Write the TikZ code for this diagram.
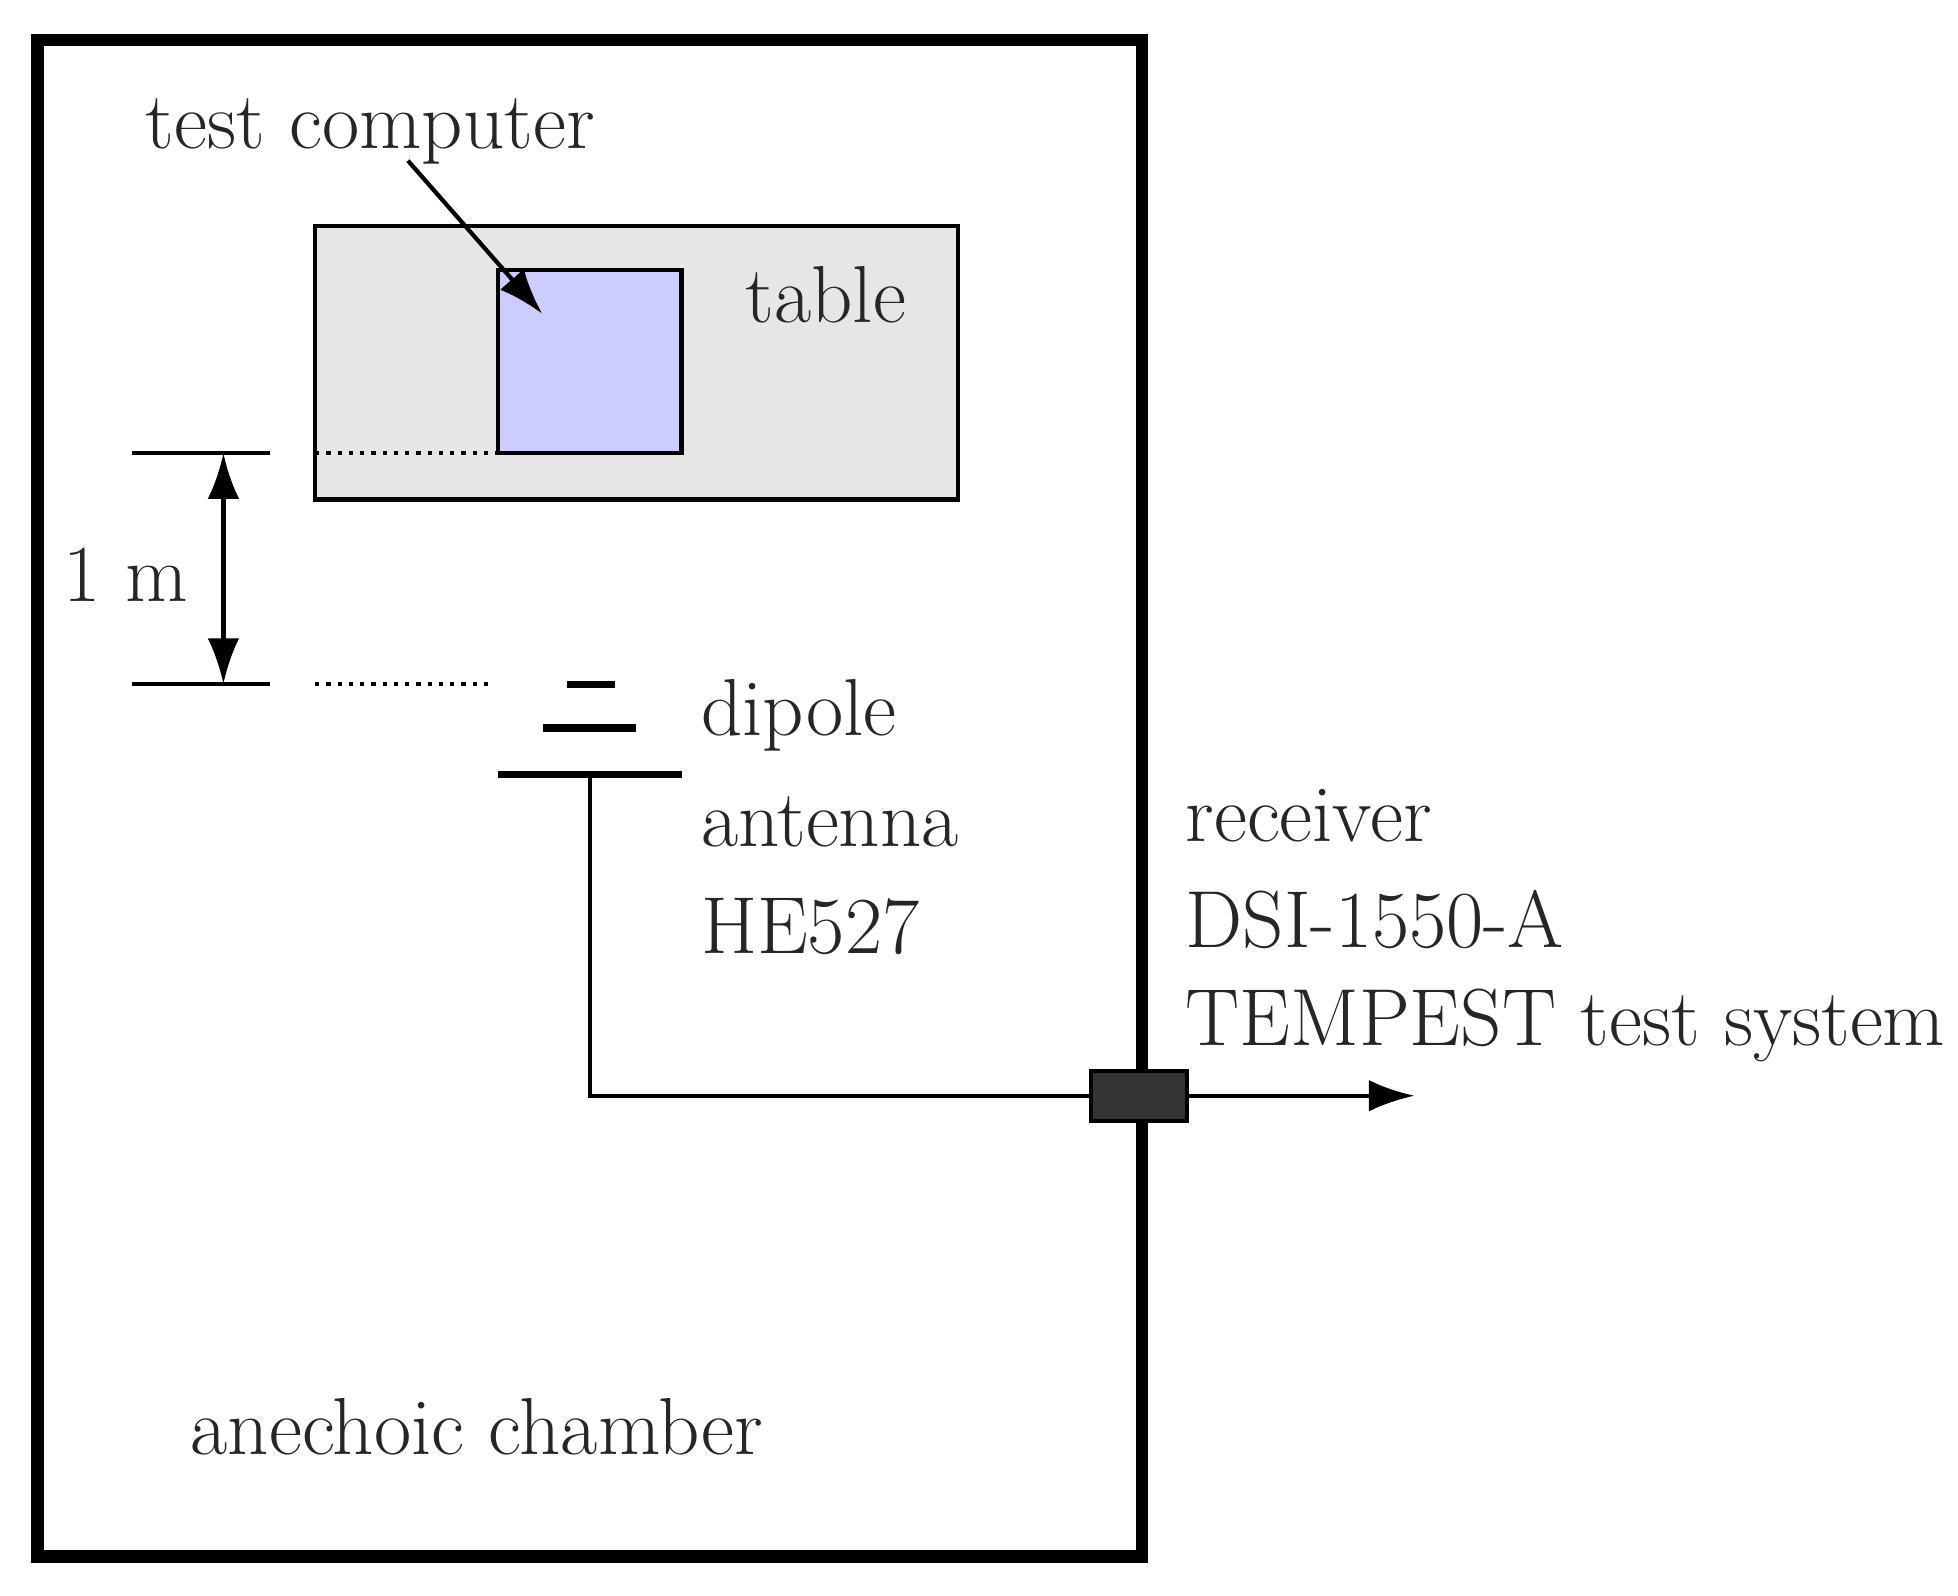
\documentclass[tikz,border=0pt]{standalone}
\usepackage{tikz}
\usetikzlibrary{positioning,calc,arrows.meta}
\definecolor{pcblue}{HTML}{CCCCFF}
\definecolor{tablegray}{HTML}{E6E6E6}
\begin{document}
\begin{tikzpicture}[x=0.01255cm,y=-0.01255cm,
	every node/.style={font=\fontsize{23}{28}\selectfont,text=black!85},
	wire/.style={line width=1.2pt},
	tip/.style={-{Latex[length=13pt,width=9pt]}},
	lbl/.style={anchor=west,inner sep=0pt}]
	\useasboundingbox (0,0) rectangle (1560,1271);
	% chamber
	\draw[line width=3.5pt] (30,32) rectangle (910,1240);
	\node at (380,1137) (chamber) {anechoic chamber};
	% table and computer
	\draw[wire,fill=tablegray] (251,180) rectangle (763,398);
	\node at (658,235) (table) {table};
	\draw[wire,fill=pcblue] (397,215) rectangle (543,361);
	\coordinate (pc) at (432,250);
	\node at (295,105) (tc) {test computer};
	\draw[wire,tip] (325,128) -- (pc);
	% distance
	\coordinate (d1) at (178,361);
	\coordinate (d2) at (178,545);
	\draw[wire] (105,361) -- (215,361);
	\draw[wire] (105,545) -- (215,545);
	\draw[wire,{Latex[length=13pt,width=9pt]}-{Latex[length=13pt,width=9pt]}] (d1) -- (d2);
	\node at (100,458) (dist) {1 m};
	\draw[wire,dotted] (251,361) -- (397,361);
	\draw[wire,dotted] (251,545) -- (390,545);
	% dipole
	\draw[line width=2pt] (452,545) -- (490,545);
	\draw[line width=2pt] (433,580) -- (507,580);
	\draw[line width=2pt] (397,617) -- (543,617);
	\node[lbl] at (558,570) (ant1) {dipole};
	\node[lbl] at (558,655) (ant2) {antenna};
	\node[lbl] at (558,738) (ant3) {HE527};
	% cable
	\coordinate (feed) at (470,617);
	\coordinate (out) at (1127,873);
	\draw[wire] (feed) |- (869,873);
	\draw[wire,tip] (946,873) -- (out);
	\draw[wire,fill=black!80] (869,853) rectangle (946,893);
	% receiver
	\node[lbl] at (944,650) (rx1) {receiver};
	\node[lbl] at (944,733) (rx2) {DSI-1550-A};
	\node[lbl] at (944,817) (rx3) {TEMPEST test system};
\end{tikzpicture}
\end{document}
